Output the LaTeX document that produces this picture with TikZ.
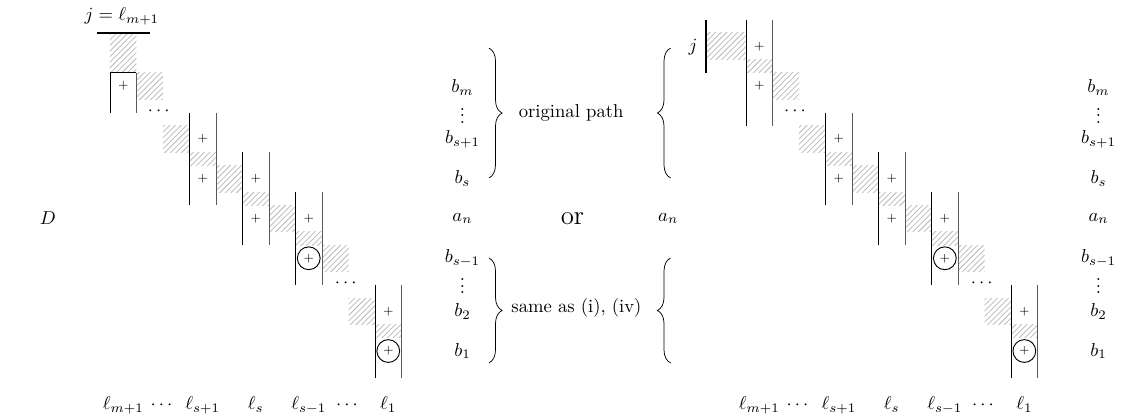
\documentclass[tikz,border=0pt]{standalone}
\usepackage{amsmath,amssymb}
\usepackage{tikz}
\usetikzlibrary{patterns,decorations.pathreplacing}

% vertical dots without the top kern of \vdots
\newcommand\rowdots{\vbox{\baselineskip3.3pt\lineskiplimit0pt\hbox{.}\hbox{.}\hbox{.}}}

\begin{document}
\begin{tikzpicture}[x=0.5cm,y=-0.5cm,
  hatch/.style={pattern=north east lines,pattern color=gray!55},
  lwall/.style={line width=0.5pt},
  rwall/.style={line width=0.5pt,black!65},
  bar/.style={line width=1.1pt},
  pl/.style={inner sep=0pt,font=\fontsize{6}{6}\selectfont},
  cpl/.style={circle,draw,line width=0.5pt,minimum size=0.43cm,inner sep=0pt,font=\fontsize{6}{6}\selectfont},
  rowname/.style={inner sep=0.5pt},
  rbrace/.style={decorate,decoration={brace,amplitude=7pt}}]
\useasboundingbox (-4.15,-1.245) rectangle (38.26,14.53);
% shared staircase, left copy and right copy
\foreach \dx/\sd in {0/L,24/R}{
\begin{scope}[xshift=\dx*0.5cm]
% hatched cells
\foreach \xa/\ya/\xb/\yb in {1/1.5/2/2.5, 2/3.5/3/4.5, 3/4.5/4/5, 4/5/5/6, 5/6/6/6.5,
  6/6.5/7/7.5, 7/7.5/8/8, 8/8/9/9, 9/10/10/11, 10/11/11/11.5}
  \fill[hatch] (\xa,\ya) rectangle (\xb,\yb);
% column walls
\foreach \xc/\ya/\yb in {3/3/6.5, 5/4.5/8, 7/6/9.5, 10/9.5/13}{
  \draw[lwall] (\xc,\ya) -- (\xc,\yb);
  \draw[rwall] (\xc+1,\ya) -- (\xc+1,\yb);
}
\foreach \x/\y [count=\k] in {0.5/2, 3.5/4, 3.5/5.5, 5.5/5.5, 5.5/7, 7.5/7, 10.5/10.5}
  \node[pl] (pl\sd\k) at (\x,\y) {$+$};
\node[cpl] (cp\sd1) at (7.5,8.5) {$+$};
\node[cpl] (cp\sd2) at (10.5,12) {$+$};
\node (dt\sd1) at (1.9,2.95) {$\cdots$};
\node (dt\sd2) at (8.95,9.45) {$\cdots$};
% column names
\foreach \x/\t [count=\k] in {0.5/\ell_{m+1}, 2/\cdots, 3.5/\ell_{s+1}, 5.5/\ell_s,
  7.5/\ell_{s-1}, 9/\cdots, 10.5/\ell_1}
  \node[anchor=base] (bt\sd\k) at (\x,14.2) {$\t$};
% row names
\foreach \y/\t [count=\k] in {2.05/b_m, 4/b_{s+1}, 5.5/b_s, 7/a_n,
  8.5/b_{s-1}, 10.5/b_2, 12/b_1}
  \node[rowname] (rt\sd\k) at (13.3,\y) {$\t$};
\node[inner sep=0pt] (vd\sd1) at (13.3,3.13) {\rowdots};
\node[inner sep=0pt] (vd\sd2) at (13.3,9.55) {\rowdots};
\end{scope}
}
% left: top column closed under the bar
\fill[hatch] (0,0) rectangle (1,1.5);
\draw[lwall] (0,3) -- (0,1.5) -- (1,1.5);
\draw[rwall] (1,1.5) -- (1,3);
\draw[bar] (-0.5,0) -- (1.5,0);
\node (jL) at (0.45,-0.62) {$j=\ell_{m+1}$};
\node (DL) at (-2.34,7) {$D$};
% right: top column open, bar on the side
\begin{scope}[xshift=12cm]
\fill[hatch] (-1.5,0) rectangle (0,1);
\fill[hatch] (0,1) rectangle (1,1.5);
\draw[lwall] (0,-0.5) -- (0,3.5);
\draw[rwall] (1,-0.5) -- (1,3.5);
\draw[bar] (-1.5,-0.5) -- (-1.5,1.5);
\node (jR) at (-2,0.55) {$j$};
\node[pl] (plR0) at (0.5,0.5) {$+$};
\node (anR) at (-2.94,7) {$a_n$};
\end{scope}
% middle
\draw[rbrace] (14.3,0.57) -- (14.3,5.47);
\draw[rbrace] (14.3,8.49) -- (14.3,12.45);
\draw[rbrace] (21.15,5.47) -- (21.15,0.57);
\draw[rbrace] (21.15,12.45) -- (21.15,8.49);
\node (orig) at (17.4,3.02) {original path};
\node[font=\Large] (or) at (17.45,7) {or};
\node (same) at (17.6,10.38) {same as (i), (iv)};
\end{tikzpicture}
\end{document}
